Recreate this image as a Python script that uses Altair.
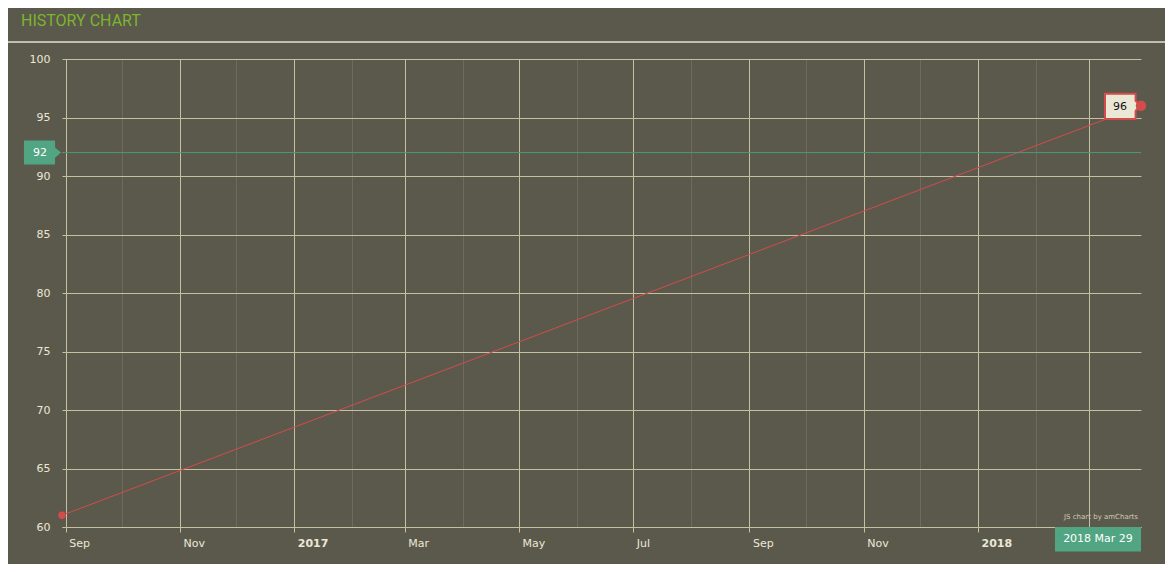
import altair as alt
import pandas as pd

# ---- data ----
DATES = ["2016-08-30T00:00:00", "2018-03-29T00:00:00"]
VALUES = [61, 96]
GUIDE_VALUE = [92]
Y_TICKS = [60, 65, 70, 75, 80, 85, 90, 95, 100]
MONTH_TICKS = [(2016, 9), (2016, 10), (2016, 11), (2016, 12),
               (2017, 1), (2017, 2), (2017, 3), (2017, 4), (2017, 5), (2017, 6),
               (2017, 7), (2017, 8), (2017, 9), (2017, 10), (2017, 11), (2017, 12),
               (2018, 1), (2018, 2), (2018, 3)]
TITLE = "HISTORY CHART"
CREDIT = "JS chart by amCharts"

W, H = 1079, 468
BG = "#5b594c"
GRID_MAJOR = "#c6c0a2"
GRID_MINOR = "#6e6b5b"
LABEL = "#ebe7d6"
RED = "#d44b4b"
GREEN = "#51a583"
FONT = "DejaVu Sans"

df = pd.DataFrame({"date": DATES, "value": VALUES})
first = df.iloc[[0]]
last = df.iloc[[-1]]
guide = pd.DataFrame({"value": GUIDE_VALUE})

major = "month(datum.value) % 2 == 0"
x_axis = alt.Axis(
    values=[alt.DateTime(year=y, month=m, date=1) for y, m in MONTH_TICKS],
    # the last tick's label is hidden under the date tag in the reference
    labelExpr=("(month(datum.value) % 2 == 0 && !(year(datum.value) == 2018 && month(datum.value) == 2)) ? "
               "(month(datum.value) == 0 ? timeFormat(datum.value, '%Y') : timeFormat(datum.value, '%b')) : ''"),
    labelAlign="left", labelOffset=3, labelBaseline="top", labelPadding=5,
    labelFont=FONT, labelFontSize=11, labelColor=LABEL,
    labelFontWeight={"condition": {"test": "month(datum.value) == 0", "value": "bold"}, "value": "normal"},
    labelOverlap=False, labelFlush=False, labelBound=False,
    grid=True,
    gridColor={"condition": {"test": major, "value": GRID_MAJOR}, "value": GRID_MINOR},
    gridOpacity=1,
    tickColor=GRID_MAJOR, tickSize=5,
    tickOpacity={"condition": {"test": major, "value": 1}, "value": 0},
    domainColor=GRID_MAJOR, title=None,
)
y_axis = alt.Axis(
    values=Y_TICKS, grid=True, gridColor=GRID_MAJOR, gridOpacity=1,
    domain=False, ticks=False, labelPadding=12,
    labelFont=FONT, labelFontSize=11, labelColor=LABEL, title=None,
)
x_enc = alt.X("date:T", scale=alt.Scale(nice=False), axis=x_axis)
y_enc = alt.Y("value:Q", scale=alt.Scale(domain=[60, 100], nice=False, zero=False), axis=y_axis)

line = alt.Chart(df).mark_line(color=RED, strokeWidth=1).encode(x=x_enc, y=y_enc)

guide_rule = alt.Chart(guide).mark_rule(color="#4b9a77", strokeWidth=1).encode(y=alt.Y("value:Q"))
guide_tag = alt.Chart(guide).mark_point(
    shape="M -3.17 -1 L -0.58 -1 L -0.58 -0.42 L -0.08 0 L -0.58 0.42 L -0.58 1 L -3.17 1 Z",
    filled=True, fill=GREEN, opacity=1, size=576, strokeWidth=0,
).encode(x=alt.value(0), y=alt.Y("value:Q"))
guide_text = alt.Chart(guide).mark_text(font=FONT, fontSize=11, color="#ffffff", baseline="middle").encode(
    x=alt.value(-22), y=alt.Y("value:Q"), text=alt.Text("value:Q"))

start_dot = alt.Chart(first).mark_circle(color=RED, size=55, opacity=1).encode(x="date:T", y="value:Q")

balloon = alt.Chart(last).mark_point(
    shape="M -3.0 -1 L -0.45 -1 L -0.45 -0.42 L -0.05 0 L -0.45 0.42 L -0.45 1.1 L -3.0 1.1 Z",
    filled=True, fill="#ebe7d5", stroke=RED, strokeWidth=2, opacity=1, size=576,
).encode(x="date:T", y="value:Q")
end_dot = alt.Chart(last).mark_circle(color=RED, size=110, opacity=1).encode(x="date:T", y="value:Q")
balloon_text = alt.Chart(last).mark_text(font=FONT, fontSize=11, color="#111111", dx=-21, dy=1).encode(
    x="date:T", y="value:Q", text=alt.Text("value:Q"))

date_tag = alt.Chart(last).mark_point(
    shape="M -7.17 0 L 0 0 L 0 2.05 L -7.17 2.05 Z",
    filled=True, fill=GREEN, opacity=1, size=576, strokeWidth=0,
).encode(x="date:T", y=alt.value(H))
date_text = alt.Chart(last).mark_text(font=FONT, fontSize=11, color="#ffffff", dx=-43, baseline="middle").encode(
    x="date:T", y=alt.value(H + 12), text=alt.Text("date:T", format="%Y %b %d"))

credit = alt.Chart(pd.DataFrame({"t": [CREDIT]})).mark_text(
    font=FONT, fontSize=7, color="#cfcab6", align="right", baseline="middle").encode(
    x=alt.value(1076), y=alt.value(458), text="t:N")

title = alt.Chart(pd.DataFrame({"t": [TITLE]})).mark_text(
    font="Roboto", fontSize=16, color="#7db52d", align="left", baseline="alphabetic").encode(
    x=alt.value(-41), y=alt.value(-33), text="t:N")
header_rule = alt.Chart(pd.DataFrame({"t": [TITLE]})).mark_rule(color="#e4e0cc", strokeWidth=1.5).encode(
    x=alt.value(-62), x2=alt.value(W + 40), y=alt.value(-17))

chart = alt.layer(
    line, guide_rule, guide_tag, guide_text, start_dot,
    balloon, end_dot, balloon_text, date_tag, date_text, credit, title, header_rule,
).properties(
    width=W, height=H,
    padding={"left": 54, "top": 51, "right": 24, "bottom": 37},
    autosize=alt.AutoSizeParams(type="none"),
    background=BG,
).configure_view(stroke=None)

chart.save("out.html", embed_options={"renderer": "svg", "actions": False})
